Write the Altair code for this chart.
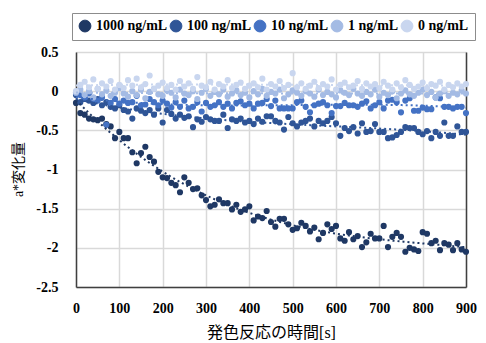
import altair as alt
import pandas as pd

TIME_S = [0, 10, 20, 30, 40, 50, 60, 70, 80, 90,
          100, 110, 120, 130, 140, 150, 160, 170, 180, 190,
          200, 210, 220, 230, 240, 250, 260, 270, 280, 290,
          300, 310, 320, 330, 340, 350, 360, 370, 380, 390,
          400, 410, 420, 430, 440, 450, 460, 470, 480, 490,
          500, 510, 520, 530, 540, 550, 560, 570, 580, 590,
          600, 610, 620, 630, 640, 650, 660, 670, 680, 690,
          700, 710, 720, 730, 740, 750, 760, 770, 780, 790,
          800, 810, 820, 830, 840, 850, 860, 870, 880, 890, 900]

SERIES = ["1000 ng/mL", "100 ng/mL", "10 ng/mL", "1 ng/mL", "0 ng/mL"]
COLORS = ["#1F3864", "#2F5597", "#4472C4", "#A4BBE4", "#C9D6EF"]

S1000 = [-0.15, -0.28, -0.30, -0.35, -0.36, -0.37, -0.35, -0.42, -0.45, -0.60,
         -0.52, -0.60, -0.60, -0.78, -0.92, -0.79, -0.71, -0.84, -0.90, -1.03,
         -1.10, -1.11, -1.17, -1.20, -1.29, -1.10, -1.17, -1.25, -1.24, -1.33,
         -1.39, -1.47, -1.45, -1.38, -1.43, -1.43, -1.51, -1.45, -1.54, -1.51,
         -1.47, -1.65, -1.60, -1.62, -1.53, -1.67, -1.73, -1.63, -1.63, -1.70,
         -1.77, -1.75, -1.68, -1.72, -1.79, -1.74, -1.89, -1.81, -1.70, -1.76,
         -1.72, -1.88, -1.91, -1.80, -1.89, -1.85, -1.99, -1.93, -1.82, -1.88,
         -1.88, -1.72, -1.99, -1.86, -1.81, -1.86, -2.05, -2.00, -2.02, -2.04,
         -1.80, -1.82, -1.94, -1.91, -2.03, -1.94, -1.96, -2.03, -1.94, -2.02, -2.05]

S100 = [-0.05, -0.14, -0.10, -0.12, -0.15, -0.10, -0.18, -0.14, -0.20, -0.22,
        -0.18, -0.24, -0.26, -0.35, -0.22, -0.25, -0.28, -0.24, -0.30, -0.22,
        -0.40, -0.24, -0.29, -0.35, -0.30, -0.34, -0.32, -0.46, -0.36, -0.39,
        -0.33, -0.36, -0.38, -0.38, -0.30, -0.47, -0.36, -0.38, -0.35, -0.40,
        -0.38, -0.42, -0.35, -0.39, -0.32, -0.32, -0.38, -0.40, -0.49, -0.33,
        -0.41, -0.45, -0.40, -0.38, -0.35, -0.45, -0.38, -0.41, -0.38, -0.33,
        -0.41, -0.57, -0.47, -0.51, -0.46, -0.54, -0.41, -0.52, -0.51, -0.42,
        -0.52, -0.52, -0.60, -0.59, -0.56, -0.52, -0.46, -0.47, -0.47, -0.52,
        -0.55, -0.51, -0.60, -0.52, -0.57, -0.40, -0.57, -0.57, -0.45, -0.52, -0.52]

S10 = [-0.02, -0.05, -0.08, -0.03, -0.10, -0.12, -0.08, -0.43, -0.15, -0.10,
       -0.16, -0.12, -0.15, -0.14, -0.06, -0.18, -0.17, -0.10, -0.14, -0.18,
       -0.12, -0.16, -0.21, -0.14, -0.20, -0.12, -0.22, -0.20, -0.14, -0.26,
       -0.15, -0.20, -0.18, -0.14, -0.20, -0.16, -0.22, -0.15, -0.13, -0.18,
       -0.16, -0.22, -0.16, -0.15, -0.10, -0.19, -0.12, -0.22, -0.22, -0.22,
       -0.22, -0.14, -0.12, -0.20, -0.27, -0.18, -0.16, -0.14, -0.18, -0.28,
       -0.19, -0.19, -0.15, -0.18, -0.18, -0.20, -0.16, -0.13, -0.22, -0.18,
       -0.14, -0.22, -0.12, -0.11, -0.14, -0.27, -0.12, -0.09, -0.25, -0.25,
       -0.21, -0.23, -0.23, -0.08, -0.09, -0.20, -0.20, -0.22, -0.20, -0.20, -0.28]

S1 = [-0.02, 0.02, -0.05, 0.00, -0.08, 0.03, -0.04, 0.01, -0.06, -0.02,
      0.04, -0.03, -0.07, 0.00, -0.05, 0.02, -0.09, -0.01, 0.03, -0.04,
      -0.06, 0.01, -0.02, -0.08, 0.02, -0.03, -0.05, 0.00, -0.10, -0.02,
      0.03, -0.06, -0.01, -0.04, 0.02, -0.07, -0.03, 0.01, -0.05, -0.02,
      -0.08, 0.00, -0.04, 0.03, -0.06, -0.01, -0.03, 0.02, -0.09, -0.04,
      0.01, -0.02, -0.06, 0.00, -0.03, -0.07, 0.02, -0.05, -0.01, -0.04,
      -0.08, 0.01, -0.02, -0.05, 0.03, -0.03, -0.06, -0.01, -0.04, 0.02,
      -0.07, -0.02, -0.05, 0.00, -0.09, -0.03, 0.01, -0.04, -0.06, -0.02,
      0.02, -0.05, -0.01, -0.08, -0.03, 0.00, -0.06, -0.02, -0.04, 0.01, -0.03]

S0 = [0.00, 0.08, 0.12, 0.05, 0.15, 0.03, 0.10, 0.06, 0.13, 0.02,
      0.08, 0.04, 0.14, 0.07, 0.16, 0.05, 0.09, 0.20, 0.03, 0.07,
      0.11, 0.04, 0.08, 0.02, 0.13, 0.06, 0.10, 0.03, 0.18, 0.07,
      0.05, 0.12, 0.02, 0.09, 0.06, 0.14, 0.04, 0.08, 0.11, 0.03,
      0.07, 0.10, 0.05, 0.16, 0.02, 0.09, 0.06, 0.13, 0.04, 0.08,
      0.23, 0.05, 0.10, 0.03, 0.07, 0.12, 0.04, 0.09, 0.06, 0.15,
      0.02, 0.08, 0.11, 0.05, 0.07, 0.13, 0.03, 0.10, 0.06, 0.09,
      0.04, 0.12, 0.07, 0.02, 0.10, 0.05, 0.14, 0.08, 0.03, 0.06,
      0.11, 0.04, 0.09, 0.07, 0.12, 0.02, 0.08, 0.05, 0.10, 0.06, 0.09]

X_TICKS = [0, 100, 200, 300, 400, 500, 600, 700, 800, 900]
Y_TICKS = [0.5, 0, -0.5, -1, -1.5, -2, -2.5]

rows = []
for name, vals in zip(SERIES, [S1000, S100, S10, S1, S0]):
    for t, v in zip(TIME_S, vals):
        rows.append({"series": name, "t": t, "v": v})
df = pd.DataFrame(rows)

FONT = "Liberation Serif, Noto Sans CJK JP"
AXIS_DARK = "#404040"

x_enc = alt.X(
    "t:Q",
    scale=alt.Scale(domain=[0, 900], nice=False),
    axis=alt.Axis(values=X_TICKS, title="発色反応の時間[s]", grid=True,
                  gridColor="#D9D9D9", gridWidth=1.5, domainColor=AXIS_DARK,
                  domainWidth=1.5, ticks=False, labelPadding=14, labelFlush=False,
                  labelFont=FONT, labelFontSize=14, labelFontWeight="bold",
                  labelColor="black", titleFont=FONT, titleFontSize=16,
                  titleFontWeight="normal", titleColor="black", titlePadding=9),
)

y_scale = alt.Scale(domain=[-2.5, 0.5], nice=False, zero=False)

y_left = alt.Y(
    "v:Q", scale=y_scale,
    axis=alt.Axis(values=Y_TICKS, title="a*変化量", grid=True, gridColor="#D9D9D9",
                  gridWidth=1.5, domainColor=AXIS_DARK, domainWidth=1.5,
                  ticks=False, labelPadding=18, labelFont=FONT, labelFontSize=14,
                  labelFontWeight="bold", labelColor="black", labelFlush=False,
                  labelExpr="toString(datum.value)",
                  titleFont=FONT, titleFontSize=14, titleFontWeight="normal",
                  titleColor="black", titleX=-58, titleY=117,
                  titleAlign="center", titleBaseline="middle"),
)

y_right = alt.Y(
    "v:Q", scale=y_scale,
    axis=alt.Axis(orient="right", labels=False, ticks=False, grid=False,
                  title=None, domainColor=AXIS_DARK, domainWidth=1.5),
)

color_enc = alt.Color(
    "series:N",
    scale=alt.Scale(domain=SERIES, range=COLORS),
    legend=alt.Legend(orient="none", legendX=-4, legendY=-39,
                      direction="horizontal", title=None, symbolType="circle",
                      symbolSize=140, symbolStrokeColor="#8C8C8C",
                      symbolStrokeWidth=1, symbolOpacity=1, labelFont=FONT,
                      labelFontSize=14, labelFontWeight="bold",
                      labelColor="black", labelOffset=4, columnPadding=0,
                      padding=6, strokeColor="#8C8C8C", fillColor="white"),
)

points = alt.Chart(df).mark_circle(size=38, opacity=1).encode(
    x=x_enc, y=y_left, color=color_enc
)

trend = alt.Chart(df).transform_regression(
    "t", "v", groupby=["series"], method="poly", order=3
).mark_line(strokeDash=[2, 3], strokeWidth=2).encode(
    x=x_enc, y=y_right,
    color=alt.Color("series:N", scale=alt.Scale(domain=SERIES, range=COLORS), legend=None),
)

chart = alt.layer(points, trend).resolve_axis(y="independent").properties(
    width=390, height=235,
    autosize=alt.AutoSizeParams(type="none"),
    padding={"left": 68, "top": 44, "right": 12, "bottom": 54},
).configure_view(stroke=None)

chart.save("out.html", embed_options={"renderer": "svg", "actions": False})
